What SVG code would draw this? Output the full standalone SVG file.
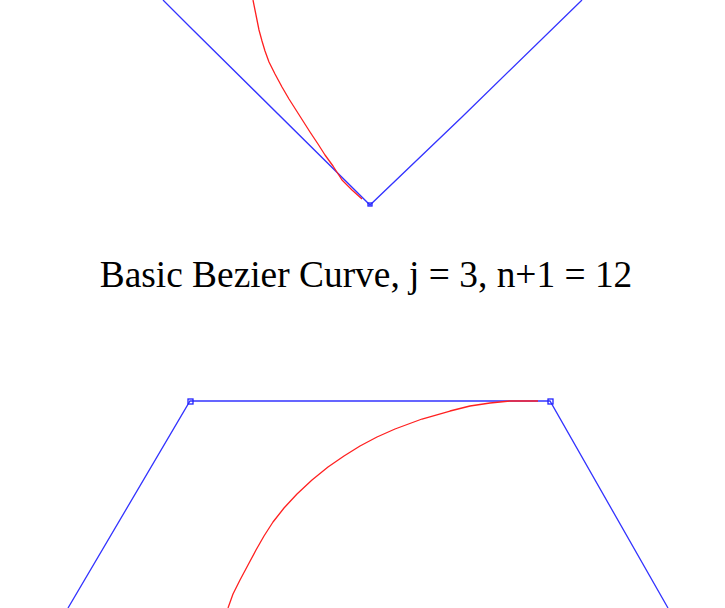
<svg xmlns="http://www.w3.org/2000/svg" width="725" height="608" viewBox="0 0 725 608">
<style>
.poly{fill:none;stroke:#3333ff;stroke-width:1.3}
.curve{fill:none;stroke:#ff2020;stroke-width:1.3;stroke-linejoin:round}
.pt{fill:none;stroke:#2222ff;stroke-width:1.3}
.lbl{font-family:"Liberation Serif","Times New Roman",serif;font-size:37.4px;fill:#000}
</style>
<rect width="725" height="608" fill="#fff"/>
<g id="top-graph">
<polyline class="poly" points="163,0 190,27 370,205 462,117 582,0"/>
<polyline class="curve" points="253,0 256,15 259,30 262,41 265,51 269,62 275,74 282,87 289,99 296,110 303,121 310,132 318,144 325,155 333,166 342,180 352,190 362,199"/>
<rect class="pt" x="368" y="203" width="4" height="3"/>
</g>
<g id="label">
<text class="lbl" x="366" y="287" text-anchor="middle">Basic Bezier Curve, j = 3, n+1 = 12</text>
</g>
<g id="bottom-graph">
<polyline class="poly" points="68,608 190,401 550,401 668,608"/>
<polyline class="curve" points="538,401 510,401 490,403 470,406 450,411 422,419 395,429 377,437 360,446 344,456 328,467 312,480 297,494 284,508 273,522 264,536 256,550 248,565 240,580 233,594 228,608"/>
<rect class="pt" x="188" y="399" width="5" height="5"/>
<rect class="pt" x="548" y="399" width="5" height="5"/>
</g>
</svg>
